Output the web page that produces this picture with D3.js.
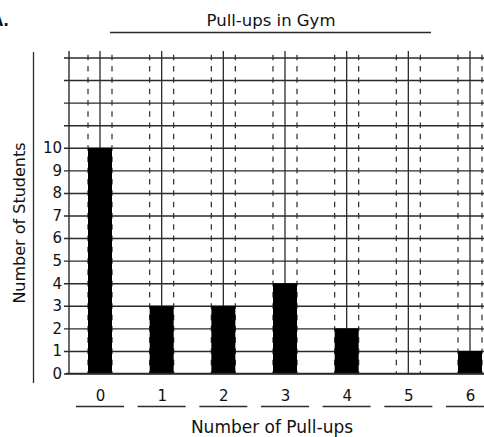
<!DOCTYPE html>
<html>
<head>
<meta charset="utf-8">
<script src="https://cdn.jsdelivr.net/npm/d3@7"></script>
<style>
  body { margin: 0; background: #fff; }
  text { font-family: "DejaVu Sans", sans-serif; fill: #111; }
</style>
</head>
<body>
<div id="d3"></div>
<script>
// chart data
var categories = ['0', '1', '2', '3', '4', '5', '6'];
var students = [10, 3, 3, 4, 2, 0, 1];
var yTickLabels = [0, 1, 2, 3, 4, 5, 6, 7, 8, 9, 10];
var gridRows = d3.range(0, 15);

var W = 484, H = 437;
var svg = d3.select('#d3').append('svg').attr('width', W).attr('height', H);

let x = d3.scalePoint().domain(categories).range([100, 470]);
let y = d3.scaleLinear().domain([0, 14]).range([373.5, 57.5]);
const barW = 24;
const ink = '#2a2a2a';

// title
svg.append('text').attr('x', 271).attr('y', 26).attr('text-anchor', 'middle')
    .style('font-size', '16.5px').text('Pull-ups in Gym');
svg.append('line').attr('x1', 110).attr('x2', 431).attr('y1', 32.5).attr('y2', 32.5)
    .attr('stroke', ink).attr('stroke-width', 1.5);
svg.append('text').attr('x', 9).attr('y', 26).attr('text-anchor', 'end')
    .style('font-size', '15px').style('font-weight', 'bold').text('A.');

// y axis + horizontal grid
let yAxis = d3.axisLeft(y).tickValues(gridRows).tickSize(-(W - 64)).tickPadding(2)
    .tickFormat(d => yTickLabels.indexOf(d) >= 0 ? d : '');
let gy = svg.append('g').attr('transform', 'translate(64,0)').call(yAxis);
gy.select('.domain').remove();
gy.selectAll('.tick line').attr('stroke', ink).attr('stroke-width', 1.4);
gy.selectAll('.tick text').style('font-size', '15px').attr('fill', '#111');

// left vertical frame line
svg.append('line').attr('x1', 69).attr('x2', 69).attr('y1', 51).attr('y2', y(0))
    .attr('stroke', ink).attr('stroke-width', 1.4);

// vertical solid lines at category centres
svg.append('g').selectAll('line').data(categories).enter().append('line')
    .attr('x1', d => x(d)).attr('x2', d => x(d))
    .attr('y1', 51).attr('y2', y(0))
    .attr('stroke', ink).attr('stroke-width', 1.3);

// dashed lines at bar edges
let edges = [];
categories.forEach(c => { edges.push(x(c) - barW / 2); edges.push(x(c) + barW / 2); });
svg.append('g').selectAll('line').data(edges).enter().append('line')
    .attr('x1', d => d).attr('x2', d => d)
    .attr('y1', y(14) - 2.75).attr('y2', y(0))
    .attr('stroke', ink).attr('stroke-width', 1.2)
    .attr('stroke-dasharray', '5.5 5.8');

// bars
svg.append('g').selectAll('rect').data(students).enter().append('rect')
    .attr('x', (d, i) => x(categories[i]) - barW / 2)
    .attr('y', d => y(d))
    .attr('width', barW)
    .attr('height', d => y(0) - y(d))
    .attr('fill', '#000');

// baseline
svg.append('line').attr('x1', 66).attr('x2', W).attr('y1', y(0)).attr('y2', y(0))
    .attr('stroke', ink).attr('stroke-width', 1.5);

// x labels with underlines
let xAxis = d3.axisBottom(x).tickSize(0).tickPadding(17);
let gx = svg.append('g').attr('transform', `translate(0,${y(0)})`).call(xAxis);
gx.select('.domain').remove();
gx.selectAll('.tick text').style('font-size', '15px').attr('fill', '#111');
svg.append('g').selectAll('line').data(categories).enter().append('line')
    .attr('x1', d => x(d) - 24).attr('x2', d => x(d) + 24)
    .attr('y1', 406.5).attr('y2', 406.5)
    .attr('stroke', ink).attr('stroke-width', 1.3);

svg.append('text').attr('x', 272).attr('y', 433).attr('text-anchor', 'middle')
    .style('font-size', '17px').text('Number of Pull-ups');

// y axis title
svg.append('line').attr('x1', 33.5).attr('x2', 33.5).attr('y1', 52).attr('y2', 383)
    .attr('stroke', ink).attr('stroke-width', 1.3);
svg.append('text').attr('transform', 'translate(25,223) rotate(-90)')
    .attr('text-anchor', 'middle').style('font-size', '16px').text('Number of Students');
</script>
</body>
</html>
